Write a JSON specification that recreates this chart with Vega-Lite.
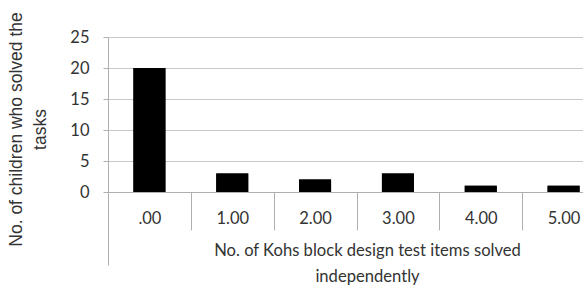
{
  "$schema": "https://vega.github.io/schema/vega-lite/v6.json",
  "autosize": "none",
  "padding": {"left": 108, "top": 37, "right": 0, "bottom": 96},
  "width": 497,
  "height": 155,
  "background": "white",
  "config": {"view": {"stroke": null}},
  "data": {"values": [
    {"cat": ".00", "n": 20},
    {"cat": "1.00", "n": 3},
    {"cat": "2.00", "n": 2},
    {"cat": "3.00", "n": 3},
    {"cat": "4.00", "n": 1},
    {"cat": "5.00", "n": 1}
  ]},
  "resolve": {"axis": {"x": "independent"}},
  "layer": [
    {
      "mark": {"type": "bar", "color": "black"},
      "encoding": {
        "x": {"field": "cat", "type": "nominal", "sort": null,
          "scale": {"paddingInner": 0.614, "paddingOuter": 0.307},
          "axis": {"orient": "bottom", "title": ["No. of Kohs block design test items solved", "independently"],
            "labelAngle": 0, "labelFont": "Lato", "labelFontSize": 16.5, "labelColor": "#333333",
            "labelPadding": -20, "labelOffset": 41.4,
            "tickSize": 38, "tickOffset": -41.4, "tickColor": "#b0b0b0", "domainColor": "#b0b0b0",
            "titleFont": "Lato", "titleFontSize": 16.6, "titleFontWeight": "normal", "titleColor": "#333333",
            "titleLineHeight": 26, "titlePadding": 12, "titleX": 259}},
        "y": {"field": "n", "type": "quantitative",
          "scale": {"domain": [0, 25], "nice": false},
          "axis": {"values": [0, 5, 10, 15, 20, 25], "title": ["No. of children who solved the", "tasks"],
            "labelFont": "Lato", "labelFontSize": 16.5, "labelColor": "#333333", "labelPadding": 14,
            "tickSize": 5, "tickColor": "#b0b0b0", "domainColor": "#b0b0b0", "gridColor": "#c8c8c8",
            "titleFont": "Liberation Sans", "titleFontSize": 17.5, "titleFontWeight": "normal", "titleColor": "#333333",
            "titleLineHeight": 24, "titleY": 92, "titlePadding": 20}}
      }
    },
    {
      "mark": {"type": "bar", "color": "black"},
      "encoding": {
        "x": {"field": "cat", "type": "nominal", "sort": null,
          "axis": {"orient": "bottom", "values": [".00"], "labels": false, "domain": false, "title": null,
            "tickSize": 73, "tickOffset": -41.4, "tickColor": "#b0b0b0"}},
        "y": {"field": "n", "type": "quantitative",
          "axis": {"values": [0, 5, 10, 15, 20, 25], "title": ["No. of children who solved the", "tasks"],
            "labelFont": "Lato", "labelFontSize": 16.5, "labelColor": "#333333", "labelPadding": 14,
            "tickSize": 5, "tickColor": "#b0b0b0", "domainColor": "#b0b0b0", "gridColor": "#c8c8c8",
            "titleFont": "Liberation Sans", "titleFontSize": 17.5, "titleFontWeight": "normal", "titleColor": "#333333",
            "titleLineHeight": 24, "titleY": 92, "titlePadding": 20}}
      }
    }
  ]
}
